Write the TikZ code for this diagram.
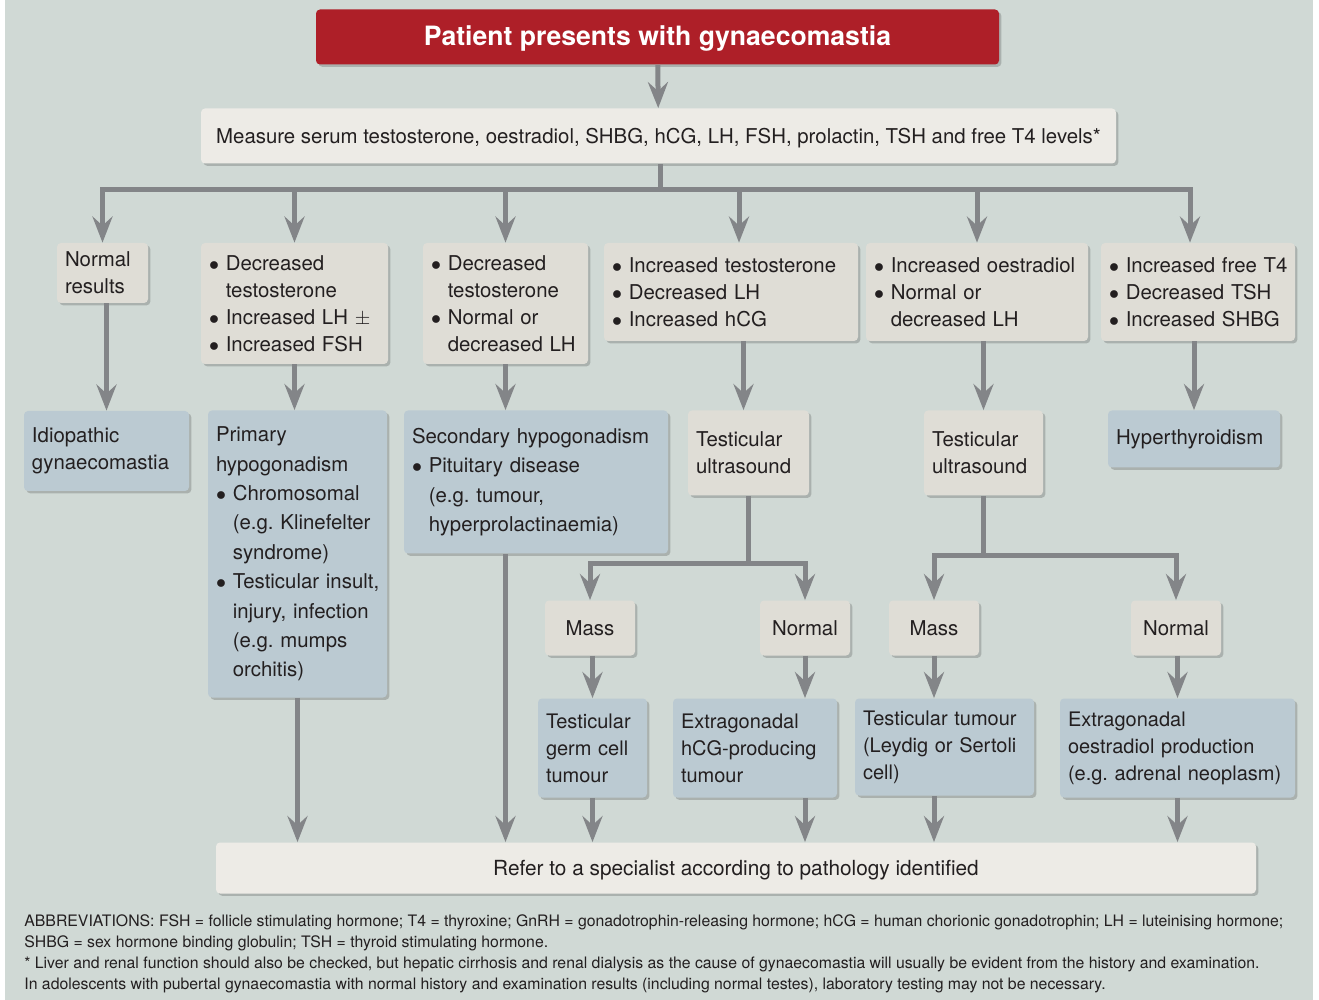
\documentclass[tikz,border=0pt]{standalone}
\usepackage{fontspec}
\setmainfont{TeX Gyre Heros}
\usetikzlibrary{arrows.meta, shadows, calc}
\definecolor{bgcol}{HTML}{D0D9D5}
\definecolor{boxcol}{HTML}{DFDDD6}
\definecolor{bluecol}{HTML}{BBCAD2}
\definecolor{lightcol}{HTML}{EDEBE6}
\definecolor{redcol}{HTML}{AE1F28}
\definecolor{arrcol}{HTML}{838588}
\definecolor{txtcol}{HTML}{231F20}
\newcommand{\bul}{$\bullet$~}
\newcommand{\ind}{\hphantom{$\bullet$~}}
\frenchspacing
\hyphenpenalty=10000
\exhyphenpenalty=10000

\begin{document}
\begin{tikzpicture}[x=0.5pt, y=-0.5pt]
	\tikzstyle{every node}+=[text=txtcol, font=\fontsize{10.2}{13.5}\selectfont]
	\tikzstyle{base}=[rectangle, rounded corners=2pt, inner xsep=4pt, inner ysep=2pt, align=left,
		drop shadow={shadow xshift=1.2pt, shadow yshift=-1.2pt, opacity=0.18, fill=black}]
	\tikzstyle{grey}=[base, fill=boxcol]
	\tikzstyle{blue}=[base, fill=bluecol]
	\tikzstyle{wide}=[base, fill=lightcol, align=center]
	\tikzstyle{roomy}=[font=\fontsize{10.2}{14.7}\selectfont]
	\tikzstyle{small}=[font=\fontsize{10}{13.5}\selectfont]
	\tikzstyle{link}=[draw=arrcol, line width=2.5pt]
	\tikzstyle{arr}=[link, -{Stealth[length=13pt, width=10pt, inset=4.5pt]}]
	\useasboundingbox (0,0) rectangle (1319,1000);
	\fill[white] (0,0) rectangle (1319,1000);
	\fill[bgcol] (5,0) rectangle (1313,1000);
	\node[base, fill=redcol, align=center, minimum width=341.5pt, minimum height=27.5pt, text=white,
		text height=8.5pt, text depth=0pt, font=\fontsize{13.3}{15}\selectfont\bfseries] (title) at (657.5,37)
		{Patient presents with gynaecomastia};
	\node[wide, minimum width=457.5pt, minimum height=27.5pt, text height=8pt, text depth=0pt] (meas) at (658.5,136)
		{Measure serum testosterone, oestradiol, SHBG, hCG, LH, FSH, prolactin, TSH and free T4 levels*};
	\node[grey, minimum width=45.5pt, minimum height=30pt, text width=37.5pt] (nr) at (102.5,273) {Normal\\results};
	\node[grey, minimum width=93.5pt, minimum height=60.5pt, text width=85.5pt] (dt) at (294.5,303.5)
		{\bul Decreased\\\ind testosterone\\\bul Increased~LH~$\pm$\\\bul Increased~FSH};
	\node[grey, minimum width=82.5pt, minimum height=60.5pt, text width=74.5pt] (dn) at (505.5,303.5)
		{\bul Decreased\\\ind testosterone\\\bul Normal~or\\\ind decreased~LH};
	\node[grey, minimum width=127pt, minimum height=49pt, text width=119pt] (it) at (731,292)
		{\bul Increased~testosterone\\\bul Decreased~LH\\\bul Increased~hCG};
	\node[grey, minimum width=111pt, minimum height=49pt, text width=103pt] (io) at (977,292)
		{\bul Increased~oestradiol\\\bul Normal~or\\\ind decreased~LH};
	\node[grey, minimum width=97pt, minimum height=49pt, text width=89pt] (ift) at (1198,292)
		{\bul Increased~free~T4\\\bul Decreased~TSH\\\bul Increased~SHBG};
	\node[blue, minimum width=82.5pt, minimum height=40pt, text width=74.5pt] (idio) at (106.5,451) {Idiopathic\\gynaecomastia};
	\node[blue, roomy, minimum width=89.5pt, minimum height=143.5pt, text width=81.5pt] (prim) at (297.5,554)
		{Primary\\hypogonadism\\\bul Chromosomal\\\ind (e.g.~Klinefelter\\\ind syndrome)\\\bul Testicular~insult,\\\ind injury,~infection\\\ind (e.g.~mumps\\\ind orchitis)};
	\node[blue, roomy, minimum width=132pt, minimum height=71.5pt, text width=124pt] (sec) at (536,482)
		{Secondary~hypogonadism\\\bul Pituitary~disease\\\ind (e.g.~tumour,\\\ind hyperprolactinaemia)};
	\node[grey, minimum width=60.5pt, minimum height=42.5pt, text width=52.5pt] (tu1) at (748.5,453) {Testicular\\ultrasound};
	\node[grey, minimum width=59.5pt, minimum height=42.5pt, text width=51.5pt] (tu2) at (983.5,453) {Testicular\\ultrasound};
	\node[blue, minimum width=86pt, minimum height=28.5pt, text width=78pt] (hyp) at (1194,439) {Hyperthyroidism};
	\node[grey, align=center, minimum width=45pt, minimum height=27.5pt] (mass1) at (590,628) {Mass};
	\node[grey, align=center, minimum width=45pt, minimum height=27.5pt] (norm1) at (805,628) {Normal};
	\node[grey, align=center, minimum width=45pt, minimum height=27.5pt] (mass2) at (934,628) {Mass};
	\node[grey, align=center, minimum width=45pt, minimum height=27.5pt] (norm2) at (1176,628) {Normal};
	\node[blue, small, minimum width=54.5pt, minimum height=49.5pt, text width=46.5pt] (germ) at (592.5,748) {Testicular\\germ~cell\\tumour};
	\node[blue, small, minimum width=82pt, minimum height=49.5pt, text width=74pt] (hcg) at (755,748) {Extragonadal\\hCG-producing\\tumour};
	\node[blue, small, minimum width=89.5pt, minimum height=48.5pt, text width=81.5pt] (ley) at (944.5,747)
		{Testicular~tumour\\(Leydig~or~Sertoli\\cell)};
	\node[blue, small, minimum width=117.5pt, minimum height=49.5pt, text width=109.5pt] (oest) at (1177.5,748)
		{Extragonadal\\oestradiol~production\\(e.g.~adrenal~neoplasm)};
	\node[wide, minimum width=520pt, minimum height=25.5pt, text height=7pt, text depth=0pt, font=\fontsize{10.4}{13.5}\selectfont] (refer) at (736,868)
		{Refer to a specialist according to pathology identified};
	\node[anchor=north west, align=left, inner sep=0pt, font=\fontsize{7.9}{10.5}\selectfont] (notes) at (24,914)
		{ABBREVIATIONS: FSH = follicle stimulating hormone; T4 = thyroxine; GnRH = gonadotrophin-releasing hormone; hCG = human chorionic gonadotrophin; LH = luteinising hormone;\\
		SHBG = sex hormone binding globulin; TSH = thyroid stimulating hormone.\\
		* Liver and renal function should also be checked, but hepatic cirrhosis and renal dialysis as the cause of gynaecomastia will usually be evident from the history and examination.\\
		In adolescents with pubertal gynaecomastia with normal history and examination results (including normal testes), laboratory testing may not be necessary.};
	\draw[arr] (title) -- (meas);
	\coordinate (split) at (660,190);
	\coordinate (itin) at ($(it.north)+(8,0)$);
	\coordinate (iftin) at ($(ift.north)+(-8,0)$);
	\coordinate (tu1in) at ($(tu1.north)+(-5,0)$);
	\draw[link] (meas.south -| split) -- (split);
	\draw[arr] (split) -| (nr.north);
	\draw[arr] (split) -| (iftin);
	\foreach \n in {dt, dn, io}
		\draw[arr] (\n.north |- split) -- (\n.north);
	\draw[arr] (itin |- split) -- (itin);
	\draw[arr] (idio.north |- nr.south) -- (idio.north);
	\draw[arr] (dt.south) -- (dt.south |- prim.north);
	\draw[arr] (dn.south) -- (dn.south |- sec.north);
	\draw[arr] (tu1in |- it.south) -- (tu1in);
	\draw[arr] (tu2.north |- io.south) -- (tu2.north);
	\draw[arr] (hyp.north |- ift.south) -- (hyp.north);
	\coordinate (s1) at ($(tu1.south)+(0,68)$);
	\coordinate (s2) at ($(tu2.south)+(0,60)$);
	\draw[link] (tu1.south) -- (s1);
	\draw[link] (tu2.south) -- (s2);
	\draw[arr] (s1) -| (mass1.north);
	\draw[arr] (s1) -| (norm1.north);
	\draw[arr] (s2) -| (mass2.north);
	\draw[arr] (s2) -| (norm2.north);
	\draw[arr] (germ.north |- mass1.south) -- (germ.north);
	\draw[arr] (norm1.south) -- (norm1.south |- hcg.north);
	\draw[arr] (mass2.south) -- (mass2.south |- ley.north);
	\draw[arr] (oest.north |- norm2.south) -- (oest.north);
	\draw[arr] (prim.south) -- (prim.south |- refer.north);
	\draw[arr] (dn.south |- sec.south) -- (dn.south |- refer.north);
	\draw[arr] (germ.south) -- (germ.south |- refer.north);
	\draw[arr] (norm1.south |- hcg.south) -- (norm1.south |- refer.north);
	\draw[arr] (mass2.south |- ley.south) -- (mass2.south |- refer.north);
	\draw[arr] (oest.south) -- (oest.south |- refer.north);
\end{tikzpicture}
\end{document}
